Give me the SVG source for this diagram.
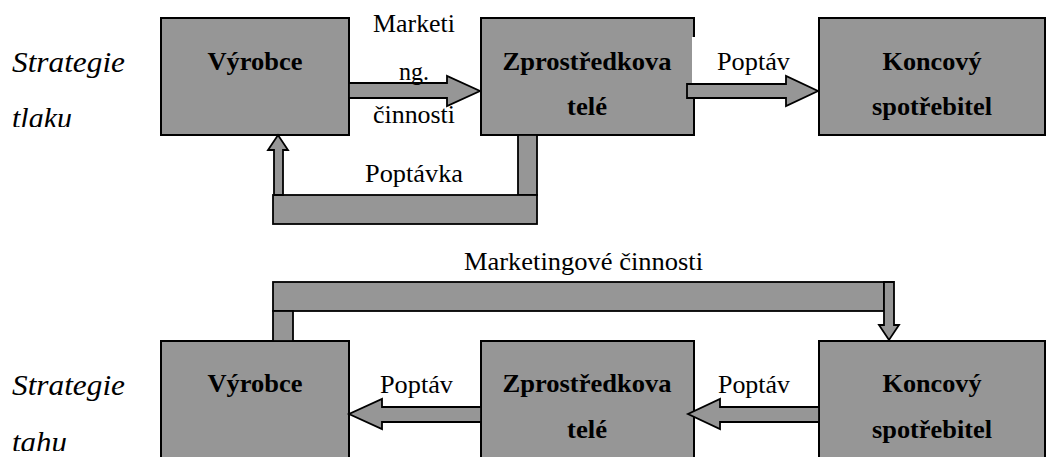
<svg xmlns="http://www.w3.org/2000/svg" width="1057" height="457" viewBox="0 0 1057 457">
  <style>
    .box { fill: #969696; stroke: #000; stroke-width: 2; }
    .pipe { fill: #969696; stroke: #000; stroke-width: 1.8; stroke-linejoin: miter; }
    text { font-family: 'Liberation Serif', Tinos, 'Nimbus Roman', 'Nimbus Roman No9 L', FreeSerif, 'Noto Serif', 'DejaVu Serif', Times, serif; fill: #000; }
    .title { font-weight: bold; font-size: 26px; text-anchor: middle; }
    .lbl { font-size: 26px; }
    .side { font-style: italic; font-size: 30px; }
  </style>
  <defs>
    <clipPath id="clipTop"><rect x="0" y="0" width="150" height="127"/></clipPath>
    <clipPath id="clipBottom"><rect x="0" y="300" width="150" height="151"/></clipPath>
  </defs>
  <rect width="1057" height="457" fill="#fff"/>

  <!-- side captions -->
  <g id="push-caption" clip-path="url(#clipTop)">
    <text class="side" x="12" y="72" textLength="113" lengthAdjust="spacingAndGlyphs">Strategie</text>
    <text class="side" x="12" y="128" textLength="60" lengthAdjust="spacingAndGlyphs">tlaku</text>
  </g>
  <g id="pull-caption" clip-path="url(#clipBottom)">
    <text class="side" x="12" y="395" textLength="113" lengthAdjust="spacingAndGlyphs">Strategie</text>
    <text class="side" x="12" y="452" textLength="55" lengthAdjust="spacingAndGlyphs">tahu</text>
  </g>

  <!-- push strategy: nodes -->
  <g id="push-vyrobce">
    <rect class="box" x="161" y="18" width="188" height="117"/>
    <text class="title" x="255" y="70" textLength="95" lengthAdjust="spacingAndGlyphs">Výrobce</text>
  </g>
  <g id="push-zprostredkovatele">
    <rect class="box" x="481" y="18" width="213" height="117"/>
    <text class="title" x="587" y="70" textLength="169" lengthAdjust="spacingAndGlyphs">Zprostředkova</text>
    <text class="title" x="587" y="115" textLength="40" lengthAdjust="spacingAndGlyphs">telé</text>
    <!-- label backing that clips the right border -->
    <rect x="692" y="37" width="10" height="46" fill="#fff"/>
  </g>
  <g id="push-koncovy">
    <rect class="box" x="819" y="18" width="226" height="117"/>
    <text class="title" x="932" y="70" textLength="99" lengthAdjust="spacingAndGlyphs">Koncový</text>
    <text class="title" x="932" y="115" textLength="120" lengthAdjust="spacingAndGlyphs">spotřebitel</text>
  </g>

  <!-- pull strategy: nodes -->
  <g id="pull-vyrobce">
    <rect class="box" x="161" y="341" width="188" height="130"/>
    <text class="title" x="255" y="392" textLength="95" lengthAdjust="spacingAndGlyphs">Výrobce</text>
  </g>
  <g id="pull-zprostredkovatele">
    <rect class="box" x="481" y="341" width="213" height="130"/>
    <text class="title" x="587" y="392" textLength="169" lengthAdjust="spacingAndGlyphs">Zprostředkova</text>
    <text class="title" x="587" y="438" textLength="40" lengthAdjust="spacingAndGlyphs">telé</text>
  </g>
  <g id="pull-koncovy">
    <rect class="box" x="819" y="341" width="226" height="130"/>
    <text class="title" x="932" y="392" textLength="99" lengthAdjust="spacingAndGlyphs">Koncový</text>
    <text class="title" x="932" y="438" textLength="120" lengthAdjust="spacingAndGlyphs">spotřebitel</text>
  </g>

  <!-- connectors -->
  <g id="connectors">
    <!-- push: marketing activities, producer to intermediaries -->
    <polygon class="pipe" points="349,83 447,83 447,76 480,91 447,106 447,98 349,98"/>
    <!-- push: demand, intermediaries to consumer -->
    <polygon class="pipe" points="687,84 786,84 786,76 818,91 786,106 786,98 687,98"/>
    <!-- push: demand loop back to producer -->
    <rect class="pipe" x="518" y="135" width="19" height="60"/>
    <rect class="pipe" x="273" y="195" width="264" height="29"/>
    <polygon class="pipe" points="274,195 274,150 268,150 278,135 288,150 283,150 283,195"/>

    <!-- pull: marketing activities, producer to consumer -->
    <rect class="pipe" x="273" y="282" width="611" height="29"/>
    <rect class="pipe" x="273" y="311" width="20" height="30"/>
    <polygon class="pipe" points="884,282 894,282 894,325 899,325 889,340 879,325 884,325"/>
    <!-- pull: demand, intermediaries to producer -->
    <polygon class="pipe" points="481,407 382,407 382,399 349,414 382,429 382,422 481,422"/>
    <!-- pull: demand, consumer to intermediaries -->
    <polygon class="pipe" points="819,407 720,407 720,399 688,414 720,429 720,422 819,422"/>
  </g>

  <!-- connector labels -->
  <g id="labels">
    <text class="lbl" x="414" y="32" text-anchor="middle" textLength="82" lengthAdjust="spacingAndGlyphs">Marketi</text>
    <text class="lbl" x="414" y="80" text-anchor="middle" textLength="30" lengthAdjust="spacingAndGlyphs">ng.</text>
    <text class="lbl" x="414" y="123" text-anchor="middle" textLength="82" lengthAdjust="spacingAndGlyphs">činnosti</text>
    <text class="lbl" x="717" y="70" textLength="73" lengthAdjust="spacingAndGlyphs">Poptáv</text>
    <text class="lbl" x="365" y="182" textLength="98" lengthAdjust="spacingAndGlyphs">Poptávka</text>
    <text class="lbl" x="464" y="270" textLength="239" lengthAdjust="spacingAndGlyphs">Marketingové činnosti</text>
    <text class="lbl" x="380" y="393" textLength="73" lengthAdjust="spacingAndGlyphs">Poptáv</text>
    <text class="lbl" x="718" y="393" textLength="72" lengthAdjust="spacingAndGlyphs">Poptáv</text>
  </g>
</svg>
